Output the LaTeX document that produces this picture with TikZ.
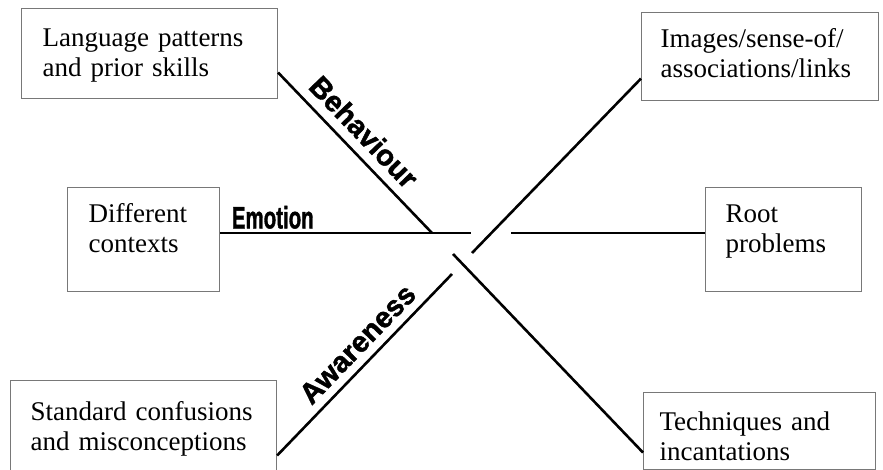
\documentclass[tikz,border=0pt]{standalone}
\usepackage{fontspec}
\setmainfont{Liberation Serif}
\newfontfamily\labelfont{Liberation Sans}[BoldFeatures={FakeBold=1.6}]
\usepackage{xcolor}
\usepackage{tikz}
\usetikzlibrary{positioning, calc}
\definecolor{boxColor}{RGB}{120,120,120}

\begin{document}
\begin{tikzpicture}[
    x=1pt, y=-1pt,
    box/.style={rectangle, draw=boxColor, line width=1.1pt, anchor=north west, align=left, inner ysep=0pt,
        font={\fontsize{27pt}{29.5pt}\selectfont\hyphenpenalty=10000}},
    spoke/.style={line width=2.6pt},
    lbl/.style={font={\labelfont\bfseries\fontsize{29pt}{30pt}\selectfont}, inner sep=2pt}
]
    \useasboundingbox (0,0) rectangle (883,470);

    % Boxes
    \node[box, inner xsep=21pt, text width=214pt, text height=38pt, text depth=52pt] (lang) at (21,8) {Language patterns\\and prior skills};
    \node[box, inner xsep=19pt, text width=199pt, text height=35pt, text depth=53pt] (img) at (641,12) {Images/sense-of/\\associations/links};
    \node[box, inner xsep=21pt, text width=110pt, text height=35pt, text depth=69pt] (ctx) at (67,187) {Different\\contexts};
    \node[box, inner xsep=20pt, text width=116pt, text height=35pt, text depth=69pt] (root) at (705,187) {Root\\problems};
    \node[box, inner xsep=20pt, text width=226pt, text height=40pt, text depth=50pt] (std) at (10,380) {Standard confusions\\and misconceptions};
    \node[box, inner xsep=16pt, text width=200pt, text height=38pt, text depth=39pt] (tech) at (643,392) {Techniques and\\incantations};

    % Ends near the middle
    \coordinate (bEnd) at (432,233);
    \coordinate (eEnd) at (471,233);
    \coordinate (rStart) at (511,233);
    \coordinate (iStart) at (472,253);
    \coordinate (tStart) at (453,254);
    \coordinate (aEnd) at (452,274);

    % Lines
    \draw[spoke] ([yshift=-19pt]lang.east) -- (bEnd) node[lbl, sloped, above=7pt, pos=0.46] (behav) {Behaviour};
    \draw[spoke] (ctx.east |- eEnd) -- (eEnd) node[lbl, above=1pt, pos=0.21] (emo) {\fontsize{31pt}{32pt}\selectfont\scalebox{0.66}[1]{Emotion}};
    \draw[spoke] (rStart) -- (root.west |- rStart);
    \draw[spoke] (iStart) -- ([yshift=-22pt]img.west);
    \draw[spoke] (tStart) -- ([yshift=-21.5pt]tech.west);
    \draw[spoke] ([yshift=-30pt]std.east) -- (aEnd) node[lbl, sloped, above=6pt, pos=0.54] (aware) {Awareness};
\end{tikzpicture}
\end{document}
